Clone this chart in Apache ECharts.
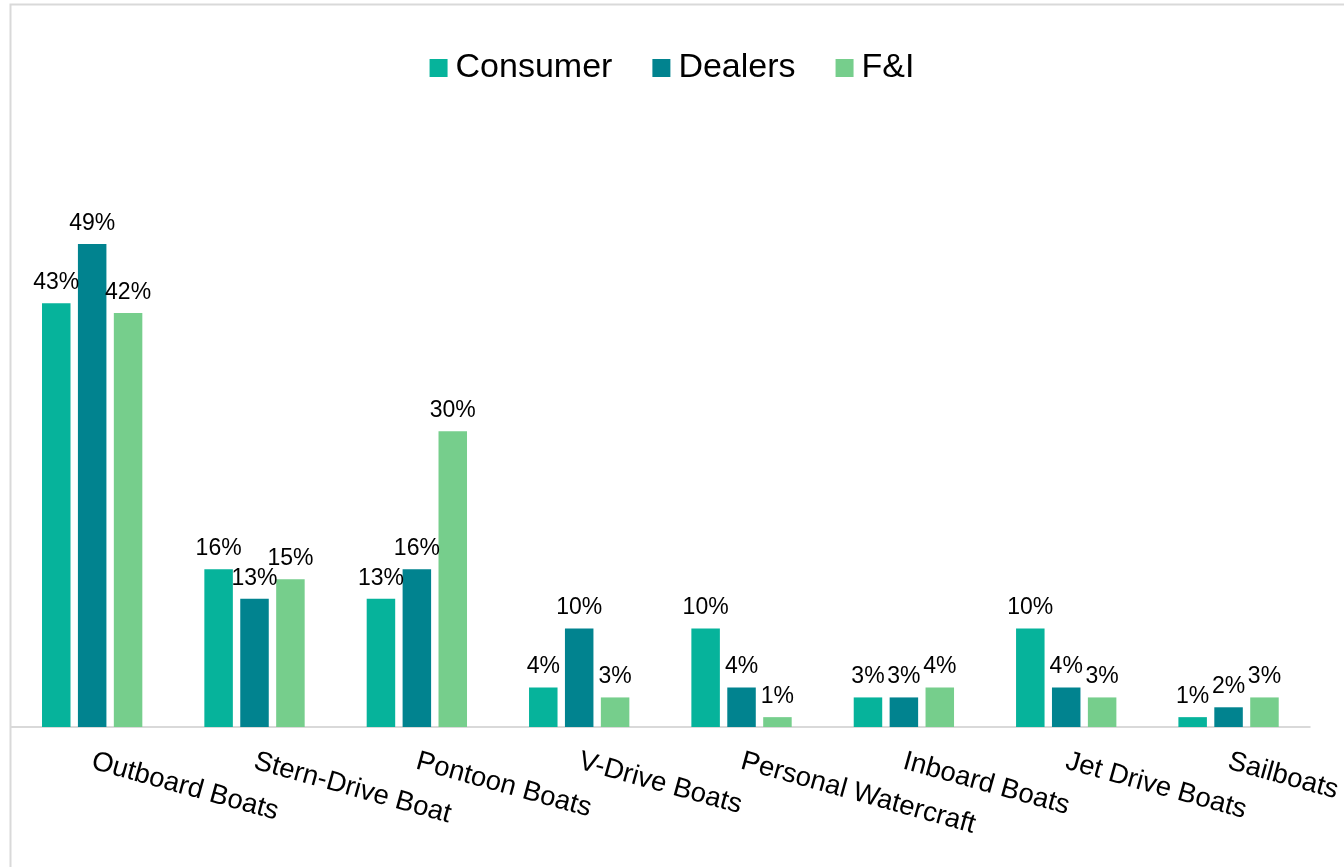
<!DOCTYPE html>
<html>
<head>
<meta charset="utf-8">
<script src="https://cdn.jsdelivr.net/npm/echarts@6/dist/echarts.min.js"></script>
<style>
html,body{margin:0;padding:0;background:#fff;}
#chart{width:1344px;height:867px;}
</style>
</head>
<body>
<div id="chart"></div>
<script>
const categories = ['Outboard Boats','Stern-Drive Boat','Pontoon Boats','V-Drive Boats','Personal Watercraft','Inboard Boats','Jet Drive Boats','Sailboats'];
const seriesNames = ['Consumer','Dealers','F&I'];
const consumer = [43,16,13,4,10,3,10,1];
const dealers  = [49,13,16,10,4,3,4,2];
const fi       = [42,15,30,3,1,4,3,3];
const colors = ['#06B39B','#01838F','#76CE8C'];

const FONT = '"Liberation Sans", Arial, sans-serif';
const chart = echarts.init(document.getElementById('chart'));

function mk(name, data, color){
  return {
    name: name, type: 'bar', data: data,
    barWidth: 28.5, barGap: '26%',
    itemStyle: {color: color},
    label: {show: true, position: 'top', distance: 9, formatter: '{c}%',
            color: '#000', fontSize: 23, fontFamily: FONT},
    animation: false
  };
}

chart.setOption({
  animation: false,
  graphic: [{type: 'rect', shape: {x: 10.5, y: 4.5, width: 1400, height: 900},
    style: {fill: 'none', stroke: '#d9d9d9', lineWidth: 2}, silent: true}],
  legend: {
    top: 46, left: 'center',
    itemWidth: 18, itemHeight: 18, itemGap: 40,
    icon: 'rect',
    textStyle: {fontSize: 34, fontFamily: FONT, color: '#000', padding: [0,0,0,3]},
    data: seriesNames
  },
  grid: {left: 11, right: 31, top: 135.6, bottom: 140, containLabel: false},
  xAxis: {
    type: 'category', data: categories,
    axisTick: {show: false},
    axisLine: {lineStyle: {color: '#d9d9d9', width: 2}},
    axisLabel: {interval: 0, rotate: -15.5, margin: 34, fontSize: 27.5, fontFamily: FONT, color: '#000'}
  },
  yAxis: {type: 'value', min: 0, max: 60, show: false, splitLine: {show: false}},
  series: [mk(seriesNames[0], consumer, colors[0]), mk(seriesNames[1], dealers, colors[1]), mk(seriesNames[2], fi, colors[2])]
});
</script>
</body>
</html>
